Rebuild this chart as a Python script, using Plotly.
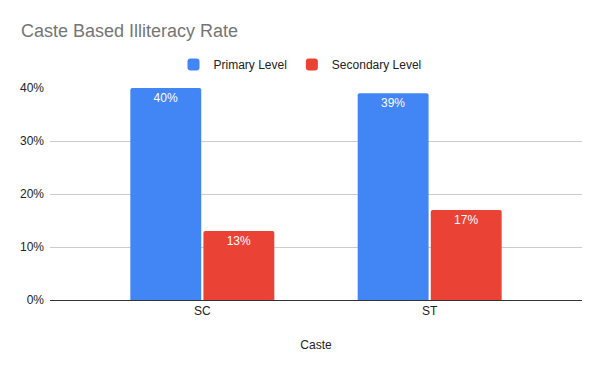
import plotly.graph_objects as go

categories = ["SC", "ST"]
primary = [0.40, 0.39]
secondary = [0.13, 0.17]
y_ticks = [0, 0.1, 0.2, 0.3, 0.4]
y_tick_labels = ["0%", "10%", "20%", "30%", "40%"]

font = "Arial, 'Liberation Sans', sans-serif"

fig = go.Figure()
fig.add_trace(go.Bar(
    x=categories, y=primary, name="Primary Level",
    marker=dict(color="#4285F4", line=dict(width=0)),
    text=[f"{v:.0%}" for v in primary], textposition="inside",
    insidetextanchor="end", textangle=0,
    textfont=dict(color="white", size=12, family=font),
))
fig.add_trace(go.Bar(
    x=categories, y=secondary, name="Secondary Level",
    marker=dict(color="#EA4335", line=dict(width=0)),
    text=[f"{v:.0%}" for v in secondary], textposition="inside",
    insidetextanchor="end", textangle=0,
    textfont=dict(color="white", size=12, family=font),
))

fig.update_layout(
    width=600, height=371,
    margin=dict(l=50, r=18, t=88, b=71, autoexpand=False),
    paper_bgcolor="white", plot_bgcolor="white",
    font=dict(family=font, color="#222222", size=12),
    barmode="group", bargap=0.357, bargroupgap=0.03, barcornerradius=2,
    showlegend=True,
    legend=dict(orientation="h", x=0.5, xref="container", xanchor="center",
                y=1 - 50 / 371, yref="container", yanchor="top",
                font=dict(size=12, color="#222222", family=font),
                traceorder="normal", itemwidth=30,
                bgcolor="rgba(0,0,0,0)"),
    uniformtext=dict(minsize=12, mode="show"),
    annotations=[dict(
        text="Caste Based Illiteracy Rate", xref="paper", yref="paper",
        x=-31 / 532, y=1 + (88 - 31) / 212, xanchor="left", yanchor="middle",
        showarrow=False, font=dict(size=18, color="#757575", family=font),
    )],
)
fig.update_xaxes(
    range=[-0.67, 1.67], showgrid=False, showline=True, automargin=False,
    linecolor="#333333", linewidth=1, ticks="",
    tickfont=dict(size=12, color="#222222"),
    title=dict(text="Caste", font=dict(size=12, color="#222222"), standoff=23),
)
fig.update_yaxes(
    range=[0, 0.4], tickvals=y_ticks, ticktext=y_tick_labels, automargin=False,
    showgrid=True, gridcolor="#cccccc", gridwidth=1, zeroline=False,
    showline=False, ticks="", ticklabelstandoff=5,
    tickfont=dict(size=12, color="#222222"),
)

fig.write_html("out.html", config={"displayModeBar": False},
               post_script="document.body.style.margin='0';")
